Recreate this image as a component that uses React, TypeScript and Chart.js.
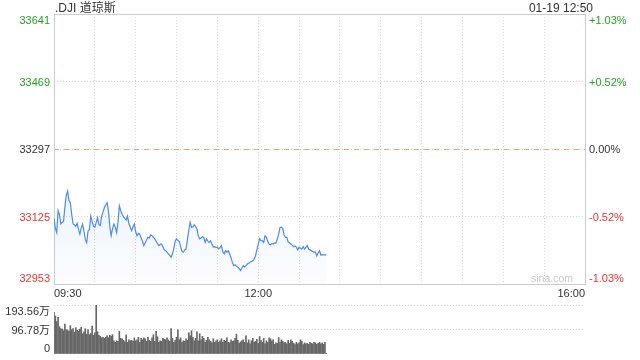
import React, { useEffect, useRef } from 'react';
import { Chart, registerables } from 'chart.js';

Chart.register(...registerables);

const TITLE = '.DJI 道琼斯';
const TIME_STAMP = '01-19 12:50';
const WATERMARK = 'sina.com';
const PREV_CLOSE = 33297;
const PRICE_TICKS = [33641, 33469, 33297, 33125, 32953];
const PCT_TICKS = ['+1.03%', '+0.52%', '0.00%', '-0.52%', '-1.03%'];
const TIME_TICKS = [0, 150, 390];
const TIME_LABELS = ['09:30', '12:00', '16:00'];
const VOL_TICKS = [193.56, 96.78, 0];
const VOL_LABELS = ['193.56万', '96.78万', '0'];

// one value per minute from 09:30 to 12:50
const PRICES = [
  33120, 33095, 33084, 33140, 33130, 33106, 33110, 33112, 33150, 33178,
  33190, 33166, 33160, 33130, 33106, 33104, 33100, 33108, 33092, 33080,
  33096, 33106, 33088, 33066, 33058, 33088, 33092, 33126, 33112, 33100,
  33098, 33110, 33122, 33104, 33102, 33126, 33136, 33148, 33155, 33160,
  33140, 33100, 33076, 33094, 33106, 33098, 33084, 33110, 33152, 33140,
  33131, 33124, 33120, 33116, 33126, 33106, 33098, 33089, 33098, 33106,
  33086, 33076, 33082, 33080, 33070, 33062, 33051, 33058, 33066, 33072,
  33070, 33078, 33076, 33072, 33068, 33062, 33056, 33051, 33054, 33055,
  33048, 33040, 33038, 33034, 33030, 33026, 33021, 33030, 33044, 33062,
  33068, 33064, 33062, 33048, 33036, 33034, 33040, 33042, 33066, 33090,
  33110, 33097, 33098, 33104, 33100, 33093, 33076, 33068, 33070, 33074,
  33072, 33059, 33068, 33062, 33059, 33063, 33054, 33047, 33048, 33046,
  33047, 33042, 33046, 33051, 33034, 33030, 33038, 33034, 33038, 33030,
  33020, 33008, 33000, 33002, 32998, 32996, 32992, 32987, 32994, 33000,
  32996, 33000, 33004, 33006, 33009, 33010, 33012, 33016, 33025, 33040,
  33054, 33068, 33064, 33063, 33059, 33076, 33072, 33062, 33054, 33053,
  33056, 33055, 33058, 33057, 33068, 33080, 33097, 33098, 33095, 33078,
  33072, 33072, 33060, 33058, 33055, 33052, 33048, 33050, 33047, 33040,
  33047, 33044, 33042, 33048, 33042, 33046, 33051, 33042, 33040, 33038,
  33036, 33034, 33034, 33025, 33032, 33038, 33027, 33028, 33027, 33027,
  33027,
];

// volume per minute, in 万
const VOLUMES = [
  165, 150, 128, 145, 108, 100, 98, 92, 118, 96,
  95, 90, 112, 96, 100, 86, 104, 94, 90, 98,
  105, 80, 88, 100, 78, 96, 76, 82, 110, 74,
  84, 193.56, 88, 74, 70, 64, 66, 62, 66, 72,
  64, 74, 70, 76, 52, 46, 52, 50, 90, 62,
  60, 54, 48, 76, 46, 56, 52, 54, 50, 64,
  52, 56, 66, 46, 62, 56, 64, 60, 50, 66,
  54, 50, 64, 76, 50, 90, 68, 46, 52, 50,
  62, 58, 56, 64, 56, 50, 100, 62, 46, 54,
  66, 95, 56, 64, 46, 52, 50, 60, 54, 84,
  72, 92, 66, 52, 62, 88, 52, 80, 56, 70,
  62, 46, 54, 66, 56, 50, 44, 60, 46, 52,
  56, 46, 52, 60, 46, 54, 50, 64, 46, 44,
  56, 50, 52, 62, 78, 54, 42, 48, 52, 56,
  46, 72, 44, 56, 40, 52, 62, 46, 50, 58,
  42, 69, 54, 46, 62, 40, 52, 46, 64, 60,
  52, 56, 38, 44, 42, 65, 46, 56, 50, 44,
  46, 40, 54, 42, 56, 50, 42, 37, 46, 40,
  44, 56, 50, 37, 44, 40, 42, 38, 46, 42,
  40, 46, 44, 38, 42, 46, 40, 44, 38, 46,
  3,
];

const FONT = "'Liberation Sans', Arial, 'Noto Sans CJK SC', sans-serif";
const GREEN = '#22a322';
const RED = '#ee3333';
const DARK = '#333333';
const GRID = '#d4d4d4';
const FRAME = '#cccccc';
const LINE = '#4d8bf0';
const BAR = '#666666';
const SESSION_MIN = 0;
const SESSION_MAX = 390;

const priceColor = (v: number) => (v > PREV_CLOSE ? GREEN : v < PREV_CLOSE ? RED : DARK);

const mainDecor = {
  id: 'mainDecor',
  beforeDatasetsDraw(chart: any) {
    const { ctx, chartArea: a, scales } = chart;
    const y = scales.y;
    ctx.save();
    const py = Math.round(y.getPixelForValue(PREV_CLOSE)) + 0.5;
    ctx.strokeStyle = '#f2a272';
    ctx.lineWidth = 1;
    ctx.setLineDash([5, 5]);
    ctx.beginPath();
    ctx.moveTo(a.left, py);
    ctx.lineTo(a.right, py);
    ctx.stroke();
    ctx.setLineDash([]);
    ctx.strokeStyle = FRAME;
    ctx.strokeRect(Math.round(a.left) + 0.5, Math.round(a.top) + 0.5, Math.round(a.right - a.left), Math.round(a.bottom - a.top));
    ctx.fillStyle = '#c8c8c8';
    ctx.font = `10.5px ${FONT}`;
    ctx.textAlign = 'right';
    ctx.textBaseline = 'alphabetic';
    ctx.fillText(WATERMARK, a.right - 12, a.bottom - 2);
    ctx.restore();
  },
  afterDraw(chart: any) {
    const { ctx, chartArea: a, scales } = chart;
    const y = scales.y;
    ctx.save();
    ctx.font = `11px ${FONT}`;
    ctx.textBaseline = 'alphabetic';
    const last = PRICE_TICKS.length - 1;
    PRICE_TICKS.forEach((v, i) => {
      const py = y.getPixelForValue(v);
      const ty = i === 0 ? py + 10 : i === last ? py - 2 : py + 4;
      ctx.fillStyle = priceColor(v);
      ctx.textAlign = 'right';
      ctx.fillText(String(v), a.left - 4, ty);
      ctx.textAlign = 'left';
      ctx.fillText(PCT_TICKS[i], a.right + 4, ty);
    });
    ctx.fillStyle = DARK;
    ctx.font = `12px ${FONT}`;
    ctx.textAlign = 'left';
    ctx.fillText(TITLE, a.left + 1, 12);
    ctx.textAlign = 'right';
    ctx.fillText(TIME_STAMP, a.right + 8, 12);
    ctx.restore();
  },
};

const volDecor = {
  id: 'volDecor',
  afterDraw(chart: any) {
    const { ctx, chartArea: a, scales } = chart;
    const y = scales.y;
    ctx.save();
    ctx.font = `11px ${FONT}`;
    ctx.textBaseline = 'alphabetic';
    ctx.fillStyle = DARK;
    ctx.textAlign = 'right';
    const last = VOL_TICKS.length - 1;
    VOL_TICKS.forEach((v, i) => {
      const py = y.getPixelForValue(v);
      const ty = i === 0 ? py + 10 : i === last ? py - 2 : py + 4;
      ctx.fillText(VOL_LABELS[i], a.left - 4, ty);
    });
    ctx.restore();
  },
};

export default function App() {
  const mainRef = useRef<HTMLCanvasElement>(null);
  const volRef = useRef<HTMLCanvasElement>(null);

  useEffect(() => {
    const priceData = PRICES.map((v, i) => ({ x: i, y: v }));
    const volData = VOLUMES.map((v, i) => ({ x: i, y: v }));

    const main = new Chart(mainRef.current as HTMLCanvasElement, {
      type: 'line',
      data: {
        datasets: [
          {
            data: priceData,
            borderColor: LINE,
            borderWidth: 1.2,
            pointRadius: 0,
            tension: 0,
            fill: 'start',
            backgroundColor: (c: any) => {
              const { chart } = c;
              const area = chart.chartArea;
              if (!area) return 'rgba(77,139,240,0.06)';
              const g = chart.ctx.createLinearGradient(0, area.top + 170, 0, area.bottom);
              g.addColorStop(0, 'rgba(77,139,240,0.11)');
              g.addColorStop(1, 'rgba(77,139,240,0.02)');
              return g;
            },
          },
        ],
      },
      options: {
        responsive: false,
        animation: false,
        layout: { padding: { top: 14, right: 55, left: 0, bottom: 0 } },
        plugins: { legend: { display: false }, tooltip: { enabled: false } },
        scales: {
          x: {
            type: 'linear',
            min: SESSION_MIN,
            max: SESSION_MAX,
            offset: false,
            afterBuildTicks: (s: any) => {
              const t = [];
              for (let v = SESSION_MIN; v <= SESSION_MAX; v += 30) t.push({ value: v });
              s.ticks = t;
            },
            afterFit: (s: any) => {
              s.height = 16;
            },
            grid: {
              drawTicks: false,
              color: (c: any) => (c.tick && (c.tick.value === SESSION_MIN || c.tick.value === SESSION_MAX) ? 'rgba(0,0,0,0)' : GRID),
            },
            border: { display: false, dash: [1, 2] },
            ticks: {
              autoSkip: false,
              maxRotation: 0,
              align: 'inner',
              padding: 3,
              color: DARK,
              font: { size: 11, family: FONT },
              callback: (v: any) => {
                const k = TIME_TICKS.indexOf(Number(v));
                return k >= 0 ? TIME_LABELS[k] : '';
              },
            },
          },
          y: {
            min: PRICE_TICKS[PRICE_TICKS.length - 1],
            max: PRICE_TICKS[0],
            afterBuildTicks: (s: any) => {
              s.ticks = PRICE_TICKS.map((v) => ({ value: v }));
            },
            afterFit: (s: any) => {
              s.width = 54;
            },
            grid: {
              drawTicks: false,
              color: (c: any) =>
                c.tick && (c.tick.value === PRICE_TICKS[0] || c.tick.value === PRICE_TICKS[PRICE_TICKS.length - 1]) ? 'rgba(0,0,0,0)' : GRID,
            },
            border: { display: false, dash: [1, 2] },
            ticks: { display: false },
          },
        },
      },
      plugins: [mainDecor],
    } as any);

    const vol = new Chart(volRef.current as HTMLCanvasElement, {
      type: 'bar',
      data: {
        datasets: [
          {
            data: volData,
            backgroundColor: BAR,
            barThickness: 1,
            borderWidth: 0,
          },
        ],
      },
      options: {
        responsive: false,
        animation: false,
        layout: { padding: { top: 5, right: 55, left: 0, bottom: 6 } },
        plugins: { legend: { display: false }, tooltip: { enabled: false } },
        scales: {
          x: {
            type: 'linear',
            min: SESSION_MIN,
            max: SESSION_MAX,
            offset: false,
            display: false,
          },
          y: {
            min: VOL_TICKS[VOL_TICKS.length - 1],
            max: VOL_TICKS[0],
            afterBuildTicks: (s: any) => {
              s.ticks = VOL_TICKS.map((v) => ({ value: v }));
            },
            afterFit: (s: any) => {
              s.width = 54;
            },
            grid: {
              drawTicks: false,
              color: (c: any) => (c.tick && c.tick.value === 0 ? 'rgba(0,0,0,0)' : GRID),
            },
            border: { display: false, dash: [1, 2] },
            ticks: { display: false },
          },
        },
      },
      plugins: [volDecor],
    } as any);

    return () => {
      main.destroy();
      vol.destroy();
    };
  }, []);

  return (
    <div style={{ position: 'absolute', left: 0, top: 0, width: 640, height: 360, background: '#fff' }}>
      <canvas ref={mainRef} width={640} height={300} style={{ position: 'absolute', left: 0, top: 0, width: 640, height: 300 }} />
      <canvas ref={volRef} width={640} height={60} style={{ position: 'absolute', left: 0, top: 300, width: 640, height: 60 }} />
    </div>
  );
}
